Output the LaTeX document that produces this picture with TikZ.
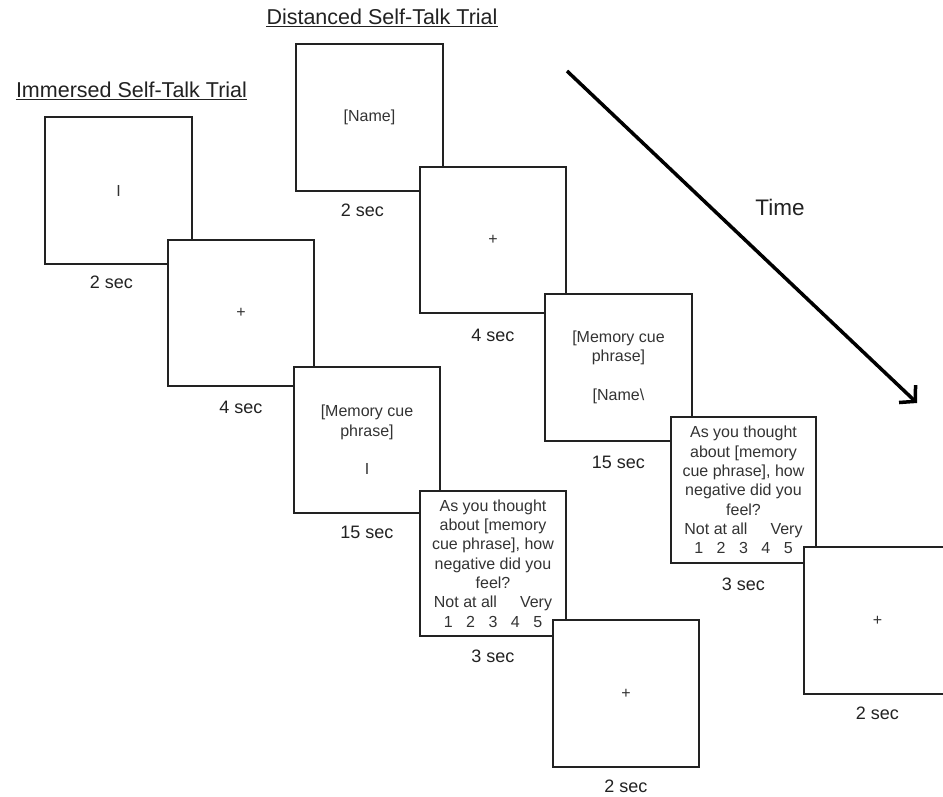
\documentclass[tikz,border=0pt]{standalone}
\usepackage{fontspec}
\setmainfont{Liberation Sans}
\usetikzlibrary{arrows.meta}
\definecolor{ink}{HTML}{222222}
\definecolor{boxtxt}{HTML}{333333}
\tikzset{
  screen/.style={draw=ink, line width=2pt, fill=white, rectangle, outer sep=0pt, inner sep=0pt,
    minimum width=147pt, minimum height=147pt, anchor=north west,
    font=\fontsize{16}{19.3}\selectfont, text=boxtxt, align=center},
  durlabel/.style={font=\fontsize{18}{21}\selectfont, text=ink, inner sep=0pt, anchor=center},
  trialtitle/.style={font=\fontsize{21.5}{24}\selectfont, text=ink, inner sep=0pt, anchor=base},
  underl/.style={draw=ink, line width=1pt},
  timearrow/.style={draw=black, line width=3.5pt, -{Straight Barb[length=11pt,width=24pt]}}
}
\newcommand{\qtext}{As you thought\\about [memory\\cue phrase], how\\negative did you\\feel?\\Not at all\hspace{23pt}Very\\1\hspace{13.5pt}2\hspace{13.5pt}3\hspace{13.5pt}4\hspace{13.5pt}5}
\begin{document}
\begin{tikzpicture}[x=1pt,y=-1pt]
\useasboundingbox (0,0) rectangle (943,796);
\clip (0,0) rectangle (943,796);
\fill[white] (0,0) rectangle (943,796);

% titles
\node[trialtitle] (ititle) at (131.5,97) {Immersed Self-Talk Trial};
\draw[underl] ([yshift=-2pt]ititle.base west) -- ([yshift=-2pt]ititle.base east);
\node[trialtitle] (dtitle) at (382,24) {Distanced Self-Talk Trial};
\draw[underl] ([yshift=-2pt]dtitle.base west) -- ([yshift=-2pt]dtitle.base east);

% immersed trial
\node[screen] (i1) at (45,117) {I};
\node[durlabel] (i1l) at ([xshift=-7pt,yshift=-18pt]i1.south) {2 sec};
\node[screen, minimum width=146pt, minimum height=146pt] (i2) at (168,240) {+};
\node[durlabel] (i2l) at ([yshift=-21pt]i2.south) {4 sec};
\node[screen, minimum width=146pt, minimum height=146pt] (i3) at (294,367) {[Memory cue\\phrase]\\[19.3pt]I};
\node[durlabel] (i3l) at ([yshift=-19pt]i3.south) {15 sec};
\node[screen, minimum width=146pt, minimum height=145pt] (i4) at (420,491) {\qtext};
\node[durlabel] (i4l) at ([yshift=-20pt]i4.south) {3 sec};
\node[screen, minimum width=146pt, minimum height=147pt] (i5) at (553,620) {+};
\node[durlabel] (i5l) at ([yshift=-19pt]i5.south) {2 sec};

% distanced trial
\node[screen] (d1) at (296,44) {[Name]};
\node[durlabel] (d1l) at ([xshift=-7pt,yshift=-19pt]d1.south) {2 sec};
\node[screen, minimum width=146pt, minimum height=146pt] (d2) at (420,167) {+};
\node[durlabel] (d2l) at ([yshift=-22pt]d2.south) {4 sec};
\node[screen] (d3) at (545,294) {[Memory cue\\phrase]\\[19.3pt][Name\textbackslash};
\node[durlabel] (d3l) at ([yshift=-21pt]d3.south) {15 sec};
\node[screen, minimum width=145pt, minimum height=146pt] (d4) at (671,417) {\qtext};
\node[durlabel] (d4l) at ([yshift=-21pt]d4.south) {3 sec};
\node[screen] (d5) at (804,547) {+};
\node[durlabel] (d5l) at ([yshift=-19pt]d5.south) {2 sec};

% time arrow
\coordinate (tstart) at (567,71);
\coordinate (tend) at (917,403);
\draw[timearrow] (tstart) -- (tend);
\node[font=\fontsize{22.5}{25}\selectfont, text=ink, inner sep=0pt] (time) at (780,207) {Time};
\end{tikzpicture}
\end{document}
